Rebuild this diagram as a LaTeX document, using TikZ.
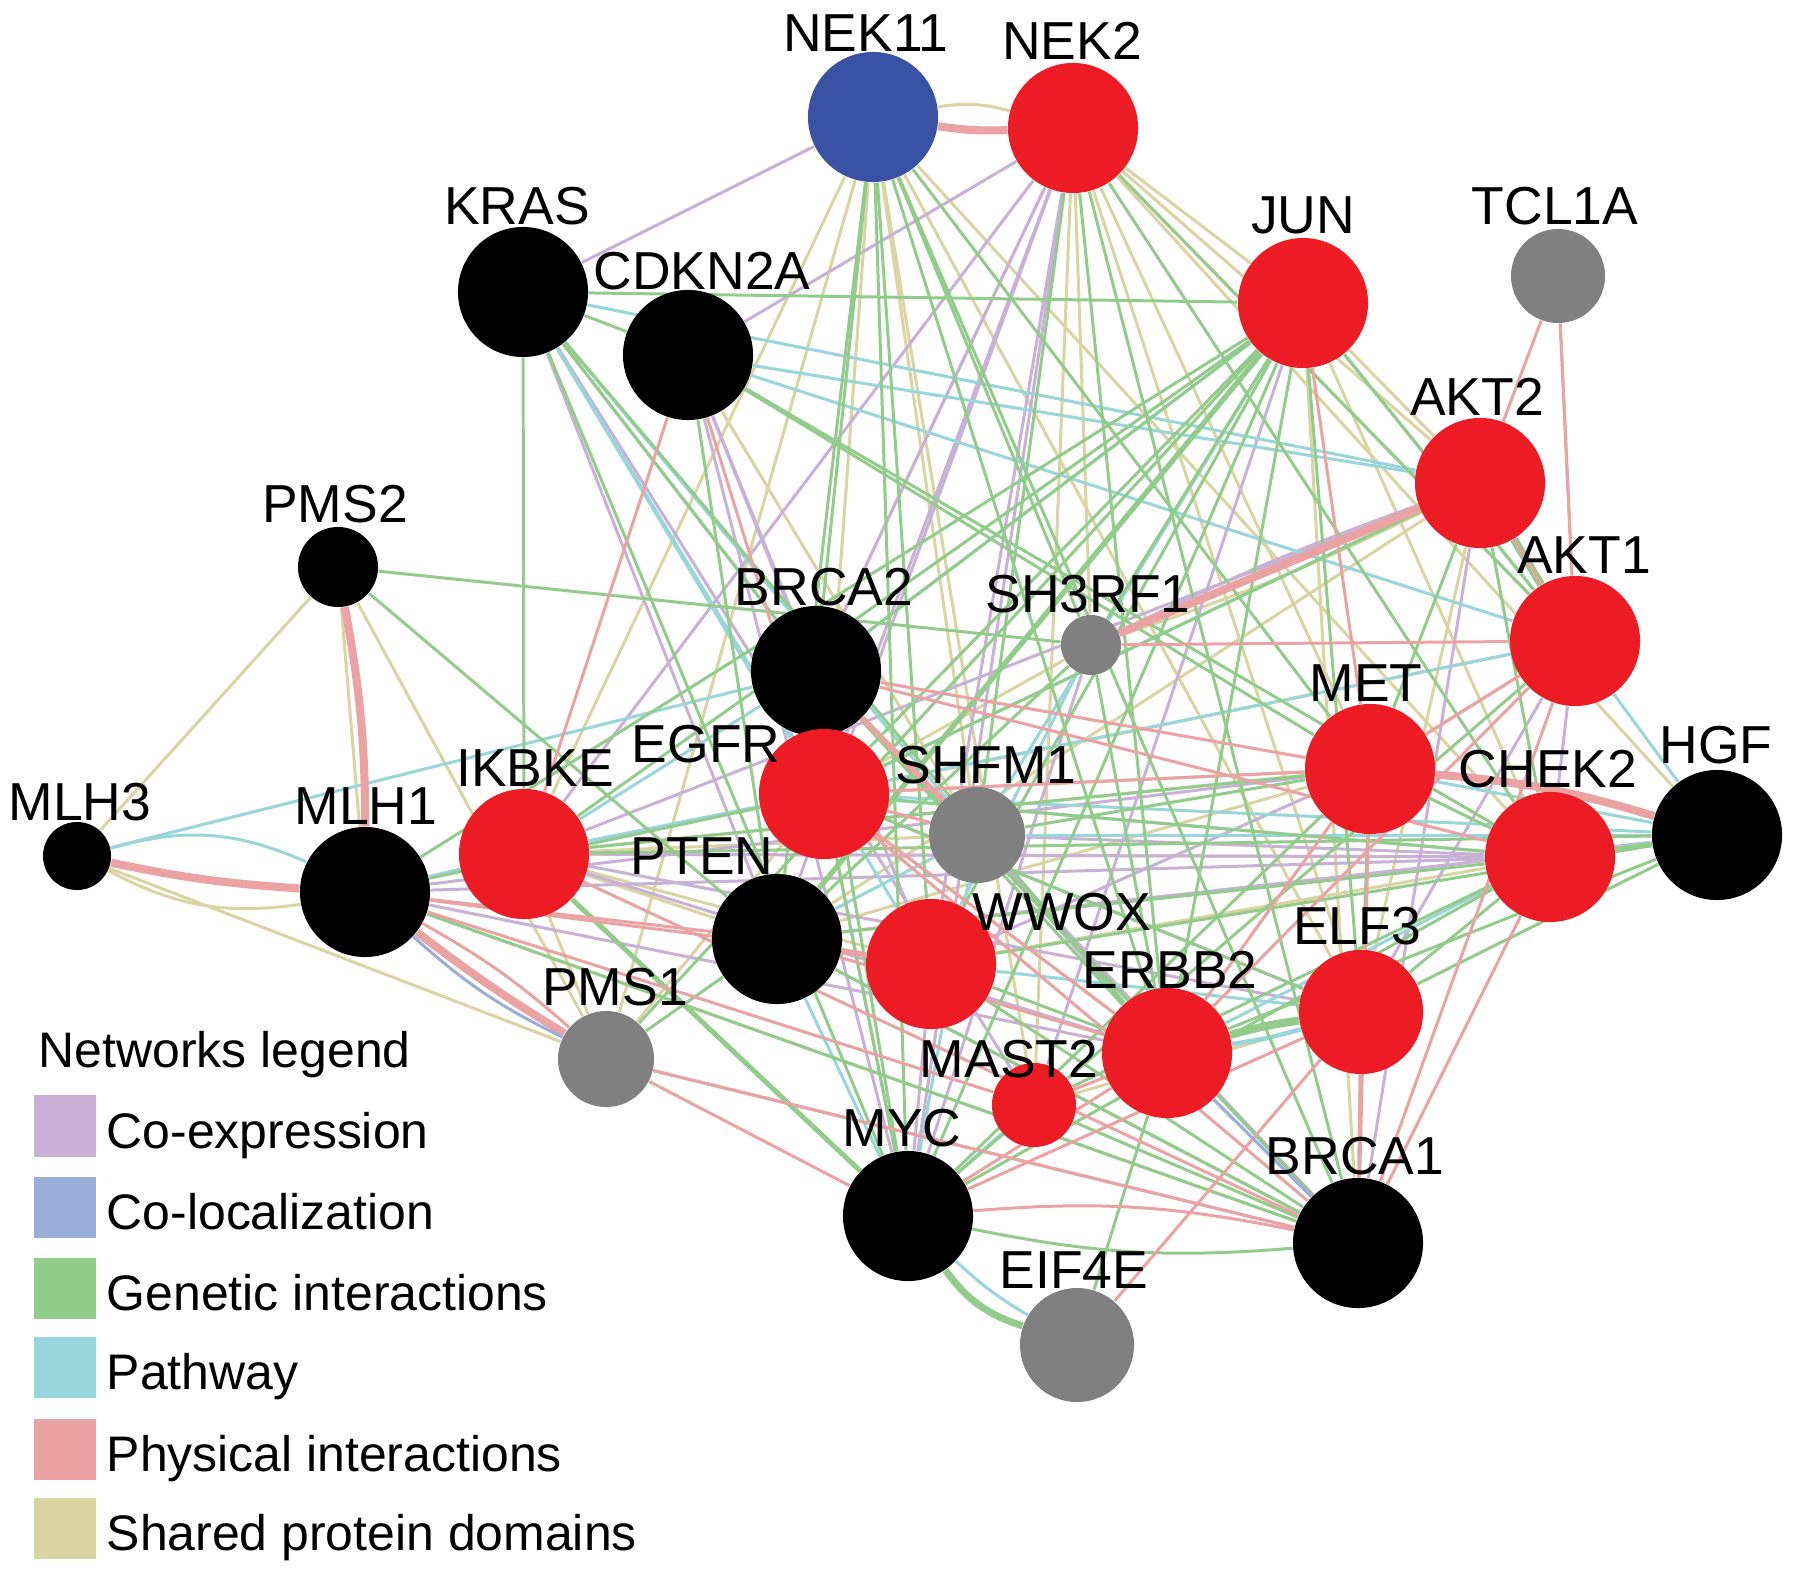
\documentclass[tikz,border=0pt]{standalone}
\usepackage{fontspec}
\setmainfont{Liberation Sans}
\pgfdeclarelayer{edges}
\pgfsetlayers{edges,main}
\definecolor{nred}{HTML}{ED1C24}
\definecolor{nblue}{HTML}{3A52A3}
\definecolor{ngray}{HTML}{808080}
\definecolor{cCoexp}{HTML}{C9B0D6}
\definecolor{cColoc}{HTML}{9AAEDB}
\definecolor{cGen}{HTML}{92CC8A}
\definecolor{cPath}{HTML}{98D6DC}
\definecolor{cPhys}{HTML}{EBA2A2}
\definecolor{cShared}{HTML}{D9D4A1}
\begin{document}
\begin{tikzpicture}[x=0.01cm,y=-0.01cm,
  gene/.style={circle,inner sep=0pt,draw=none},
  lbl/.style={inner sep=0pt,font=\fontsize{15.2}{18}\selectfont},
  legtxt/.style={inner sep=0pt,anchor=base west,font=\fontsize{14.2}{17}\selectfont},
  swatch/.style={rectangle,inner sep=0pt,draw=none,minimum width=0.62cm,minimum height=0.61cm},
  coexp/.style={draw=cCoexp,line width=0.85pt},
  coloc/.style={draw=cColoc,line width=0.85pt},
  gen/.style={draw=cGen,line width=0.85pt},
  pathw/.style={draw=cPath,line width=0.85pt},
  phys/.style={draw=cPhys,line width=0.85pt},
  shared/.style={draw=cShared,line width=0.85pt},
  heavy/.style={line width=2.3pt}
]
\useasboundingbox (0,0) rectangle (1795,1573);

% gene nodes
\foreach \n/\x/\y/\c/\d in {
 NEK11/873/117/nblue/1.30, NEK2/1073/128/nred/1.30, KRAS/523/292/black/1.30,
 CDKN2A/688/355/black/1.30, JUN/1303/303/nred/1.30, TCL1A/1558/276/ngray/0.94,
 AKT2/1480/483/nred/1.30, AKT1/1575/641/nred/1.30, PMS2/338/567/black/0.80,
 BRCA2/816/671/black/1.30, SH3RF1/1091/645/ngray/0.60, MET/1370/769/nred/1.30,
 HGF/1717/835/black/1.30, CHEK2/1550/857/nred/1.30, EGFR/824/794/nred/1.30,
 SHFM1/977/835/ngray/0.96, IKBKE/524/854/nred/1.30, MLH1/365/892/black/1.30,
 MLH3/77/856/black/0.68, PTEN/777/939/black/1.30, WWOX/931/964/nred/1.30,
 ELF3/1361/1012/nred/1.24, ERBB2/1167/1053/nred/1.30, PMS1/606/1059/ngray/0.96,
 MAST2/1034/1105/nred/0.84, MYC/908/1216/black/1.30, BRCA1/1358/1243/black/1.30,
 EIF4E/1077/1345/ngray/1.14}
  \node[gene,fill=\c,minimum size=\d cm] (\n) at (\x,\y) {};

% labels
\foreach \n/\x/\y in {NEK11/866/33, NEK2/1072/41, KRAS/517/206, CDKN2A/702/271,
 JUN/1303/215, TCL1A/1555/206, AKT2/1477/397, AKT1/1584/555, PMS2/335/504,
 BRCA2/824/587, SH3RF1/1088/594, MET/1366/683, HGF/1716/745, CHEK2/1548/769,
 EGFR/706/744, SHFM1/986/765, IKBKE/535/768, MLH1/366/806, MLH3/80/802,
 PTEN/702/856, WWOX/1062/912, ELF3/1357/926, ERBB2/1170/970, PMS1/615/987,
 MAST2/1009/1059, MYC/902/1128, BRCA1/1355/1156, EIF4E/1074/1270}
  \node[lbl] (\n-t) at (\x,\y) {\n};

\begin{pgfonlayer}{edges}
\fill[white] (0,0) rectangle (1795,1573);
% shared protein domains
\foreach \a/\b in {NEK11/IKBKE, NEK11/EGFR, NEK11/SHFM1, NEK11/MAST2, NEK11/ELF3,
 NEK11/CHEK2, NEK11/PMS1, NEK2/BRCA2, NEK2/MAST2, NEK2/ELF3, NEK2/MET, NEK2/AKT2,
 NEK2/JUN, NEK2/HGF, NEK2/SH3RF1, NEK2/AKT1, JUN/AKT2, JUN/CHEK2, JUN/BRCA1,
 AKT2/PTEN, AKT2/ELF3, AKT1/EGFR, AKT1/MET, PMS2/MLH3, PMS2/MLH1, PMS2/PMS1,
 MLH3/PMS1, IKBKE/SHFM1, IKBKE/PTEN, IKBKE/WWOX, IKBKE/MET, IKBKE/PMS1, IKBKE/EGFR,
 IKBKE/CHEK2, MET/PTEN, MET/EGFR, CHEK2/WWOX, ELF3/MAST2, ERBB2/EGFR, SH3RF1/EGFR,
 MLH1/BRCA1, EGFR/PMS1, CDKN2A/SHFM1}
  \draw[shared] (\a) -- (\b);
\draw[shared] (NEK11) to[bend left=12] (NEK2);
\draw[shared] (AKT2) to[bend left=4] (SH3RF1);
\draw[shared] (MLH3) to[bend right=18] (MLH1);
% co-expression
\foreach \a/\b in {NEK11/KRAS, NEK2/CDKN2A, NEK2/IKBKE, NEK2/EGFR, NEK2/PTEN,
 NEK2/WWOX, NEK2/MYC, NEK2/BRCA2, KRAS/PTEN, KRAS/MAST2, KRAS/BRCA2, CDKN2A/BRCA2,
 CDKN2A/WWOX, CDKN2A/MYC, TCL1A/AKT1, AKT2/IKBKE, AKT2/BRCA1, AKT1/CHEK2, AKT1/ELF3,
 MET/WWOX, MET/MLH1, CHEK2/IKBKE, CHEK2/MLH1, CHEK2/SHFM1, HGF/PTEN, ELF3/EGFR,
 ERBB2/SHFM1, ERBB2/MLH1, BRCA1/PMS1, BRCA1/SHFM1, MYC/WWOX, SH3RF1/MYC, MLH1/IKBKE,
 JUN/MAST2, IKBKE/ERBB2, BRCA2/BRCA1, EGFR/MYC, PTEN/BRCA1, IKBKE/ELF3}
  \draw[coexp] (\a) -- (\b);
\draw[coexp] (AKT2) to[bend right=3] (SH3RF1);
% pathway
\foreach \a/\b in {CDKN2A/AKT2, CDKN2A/AKT1, KRAS/WWOX, KRAS/SHFM1, KRAS/EGFR,
 JUN/BRCA2, JUN/SHFM1, JUN/AKT1, AKT2/KRAS, AKT2/EGFR, AKT1/IKBKE, MLH3/BRCA2,
 HGF/EGFR, HGF/SHFM1, HGF/MET, CHEK2/ERBB2, ELF3/WWOX, ERBB2/BRCA1, MYC/PTEN,
 MYC/SHFM1, MYC/MAST2, SH3RF1/WWOX, BRCA2/IKBKE, AKT1/HGF, MLH1/IKBKE, EGFR/CHEK2,
 PTEN/SHFM1}
  \draw[pathw] (\a) -- (\b);
\draw[pathw,line width=1.5pt] (HGF) -- (CHEK2);
\draw[pathw,line width=1.3pt] (ELF3) to[bend left=4] (ERBB2);
\draw[pathw] (MLH3) to[bend left=20] (MLH1);
\draw[pathw] (MYC) to[bend right=6] (EIF4E);
% genetic interactions
\foreach \a/\b in {KRAS/JUN, KRAS/CDKN2A, KRAS/IKBKE, KRAS/MYC, KRAS/BRCA2, KRAS/ERBB2,
 CDKN2A/MET, CDKN2A/CHEK2, CDKN2A/PTEN, NEK11/BRCA2, NEK11/PTEN, NEK11/WWOX,
 NEK11/MYC, NEK11/ERBB2, NEK11/BRCA1, NEK11/MET, NEK11/SH3RF1, NEK2/SHFM1,
 NEK2/ERBB2, NEK2/BRCA1, NEK2/CHEK2, NEK2/AKT1, JUN/EGFR, JUN/IKBKE, JUN/MLH1,
 JUN/SH3RF1, JUN/WWOX, JUN/MYC, JUN/ERBB2, JUN/PMS1, JUN/ELF3, JUN/AKT1, JUN/BRCA2,
 AKT2/EGFR, AKT2/MET, AKT2/CHEK2, AKT1/MYC, PMS2/SH3RF1, PMS2/PTEN, SH3RF1/PTEN,
 SH3RF1/ERBB2, MET/CHEK2, MET/ELF3, MET/MYC, MET/SHFM1, CHEK2/ELF3, CHEK2/MYC,
 CHEK2/PTEN, CHEK2/EGFR, CHEK2/MAST2, HGF/CHEK2, HGF/ELF3, HGF/ERBB2, HGF/WWOX,
 ERBB2/EIF4E, ERBB2/WWOX, ERBB2/BRCA2, BRCA1/PTEN, BRCA1/WWOX, BRCA1/BRCA2,
 BRCA1/MAST2, BRCA1/MLH1, MYC/EGFR, MYC/BRCA2, PMS1/PTEN, MLH1/EGFR, ELF3/BRCA1,
 EGFR/ELF3, IKBKE/MET, IKBKE/HGF}
  \draw[gen] (\a) -- (\b);
\draw[gen,line width=1.5pt] (JUN) -- (PTEN);
\draw[gen,line width=1.4pt] (IKBKE) -- (MYC);
\draw[gen,heavy] (ELF3) to[bend right=4] (ERBB2);
\draw[gen,heavy] (AKT2) -- (AKT1);
\draw[gen,line width=2pt] (MYC) to[bend right=18] (EIF4E);
\draw[gen] (MYC) to[bend right=8] (BRCA1);
% physical interactions
\foreach \a/\b in {CDKN2A/IKBKE, CDKN2A/EGFR, TCL1A/AKT2, TCL1A/AKT1, JUN/MET,
 SH3RF1/AKT1, AKT1/MET, AKT1/BRCA1, AKT1/ERBB2, MET/EGFR, MET/ERBB2, MET/BRCA1,
 CHEK2/BRCA1, CHEK2/BRCA2, ELF3/BRCA1, ELF3/MYC, ELF3/EIF4E, ERBB2/EGFR, ERBB2/MAST2,
 ERBB2/MYC, ERBB2/PTEN, BRCA1/PMS1, BRCA1/EGFR, PMS1/MYC, MLH1/PTEN, MLH1/WWOX,
 MLH1/MAST2, EGFR/SHFM1, BRCA2/MET, PTEN/WWOX, AKT2/AKT1, IKBKE/BRCA1}
  \draw[phys] (\a) -- (\b);
\draw[phys,line width=1.6pt] (BRCA2) -- (SHFM1);
\draw[phys] (MYC) to[bend left=8] (BRCA1);
\draw[phys] (MLH1) to[bend left=6] (PMS1);
\draw[phys,heavy] (NEK11) to[bend right=5] (NEK2);
\draw[phys,heavy] (AKT2) -- (SH3RF1);
\draw[phys,heavy] (MET) to[bend left=6] (HGF);
\draw[phys,heavy] (MLH3) to[bend right=4] (MLH1);
\draw[phys,heavy] (PMS2) to[bend left=5] (MLH1);
\draw[phys,heavy] (MLH1) to[bend right=3] (PMS1);
% co-localization
\draw[coloc] (MLH1) to[bend right=8] (PMS1);
\draw[coloc] (ERBB2) -- (BRCA1);
\end{pgfonlayer}

% legend
\node[legtxt] (leg-title) at (38,1067) {Networks legend};
\foreach \i/\y/\c/\t in {1/1126/cCoexp/Co-expression, 2/1207/cColoc/Co-localization,
 3/1288/cGen/Genetic interactions, 4/1367/cPath/Pathway,
 5/1449/cPhys/Physical interactions, 6/1528/cShared/Shared protein domains}
{
  \node[swatch,fill=\c] (sw\i) at (65,\y) {};
  \node[legtxt] (lt\i) at (106,{\y+22}) {\t};
}
\end{tikzpicture}
\end{document}
